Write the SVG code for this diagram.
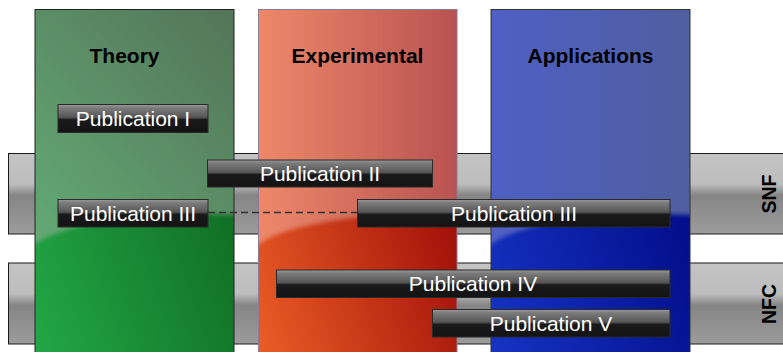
<svg xmlns="http://www.w3.org/2000/svg" width="783" height="352" viewBox="0 0 783 352">
  <defs>
    <style>
      .band { stroke: #1a1a1a; stroke-width: 1; fill: url(#bandGrad); }
      .head { font-family: "Liberation Sans", Arial, sans-serif; font-weight: bold; font-size: 21px; fill: #000; text-anchor: middle; }
      .side { font-family: "Liberation Sans", Arial, sans-serif; font-weight: bold; font-size: 19.5px; fill: #000; text-anchor: middle; }
      .pub rect { fill: url(#pubGrad); stroke: #2a2a2a; stroke-width: 1; }
      .pub text { font-family: "Liberation Sans", Arial, sans-serif; font-size: 21px; fill: #fff; text-anchor: middle; }
      .link { stroke: #333; stroke-width: 1.3; stroke-dasharray: 7 4; fill: none; }
    </style>
    <linearGradient id="bandGrad" x1="0" y1="0" x2="0" y2="1">
      <stop offset="0" stop-color="#c4c4c4"/>
      <stop offset="0.38" stop-color="#bdbdbd"/>
      <stop offset="0.52" stop-color="#858585"/>
      <stop offset="1" stop-color="#9c9c9c"/>
    </linearGradient>
    <linearGradient id="pubGrad" x1="0" y1="0" x2="0" y2="1">
      <stop offset="0" stop-color="#9a9a9a"/>
      <stop offset="0.12" stop-color="#7c7c7c"/>
      <stop offset="0.46" stop-color="#555"/>
      <stop offset="0.54" stop-color="#1a1a1a"/>
      <stop offset="1" stop-color="#131313"/>
    </linearGradient>
    <!-- column base (saturated lower part) -->
    <linearGradient id="greenLow" x1="0" y1="1" x2="1" y2="0.4">
      <stop offset="0" stop-color="#22a846"/>
      <stop offset="1" stop-color="#0f6a22"/>
    </linearGradient>
    <linearGradient id="greenTop" x1="0" y1="1" x2="1" y2="0">
      <stop offset="0" stop-color="#64ad77"/>
      <stop offset="1" stop-color="#537156"/>
    </linearGradient>
    <linearGradient id="redLow" x1="0" y1="1" x2="1" y2="0.4">
      <stop offset="0" stop-color="#ec5e26"/>
      <stop offset="1" stop-color="#980806"/>
    </linearGradient>
    <linearGradient id="redTop" x1="0" y1="0" x2="1" y2="0">
      <stop offset="0" stop-color="#f28c6c"/>
      <stop offset="1" stop-color="#b44f50"/>
    </linearGradient>
    <linearGradient id="blueLow" x1="0" y1="1" x2="1" y2="0.4">
      <stop offset="0" stop-color="#1634c4"/>
      <stop offset="1" stop-color="#000a84"/>
    </linearGradient>
    <linearGradient id="blueTop" x1="0" y1="0" x2="1" y2="0">
      <stop offset="0" stop-color="#505ec8"/>
      <stop offset="1" stop-color="#4f5e9c"/>
    </linearGradient>
    <clipPath id="clipTheory"><rect x="35" y="9.5" width="199" height="350"/></clipPath>
    <clipPath id="clipExp"><rect x="258.5" y="9.5" width="198.5" height="350"/></clipPath>
    <clipPath id="clipApp"><rect x="491" y="9.5" width="199" height="350"/></clipPath>
    <filter id="soft" x="-5%" y="-5%" width="110%" height="110%">
      <feGaussianBlur stdDeviation="2.3"/>
    </filter>
  </defs>

  <rect width="783" height="352" fill="#fff"/>

  <!-- horizontal bands -->
  <g id="band-snf">
    <rect class="band" x="8.5" y="153.5" width="790" height="80.5"/>
  </g>
  <g id="band-nfc">
    <rect class="band" x="8.5" y="263" width="790" height="81"/>
  </g>

  <!-- columns: saturated base with a glossy lighter top -->
  <g id="col-theory">
    <rect x="35" y="9.5" width="199" height="350" fill="url(#greenLow)"/>
    <g clip-path="url(#clipTheory)">
      <path d="M20,0 H249 V215.8 A175,44 0 0,0 35,244.3 L20,252 Z" fill="url(#greenTop)" filter="url(#soft)"/>
    </g>
    <rect x="35" y="9.5" width="199" height="350" fill="none" stroke="#222" stroke-width="1"/>
    <text class="head" x="124.5" y="63">Theory</text>
  </g>
  <g id="col-experimental">
    <rect x="258.5" y="9.5" width="198.5" height="350" fill="url(#redLow)"/>
    <g clip-path="url(#clipExp)">
      <path d="M243,0 H472 V215.8 A175,44 0 0,0 258.5,244.3 L243,252 Z" fill="url(#redTop)" filter="url(#soft)"/>
    </g>
    <rect x="258.5" y="9.5" width="198.5" height="350" fill="none" stroke="#8c7c9c" stroke-width="1"/>
    <text class="head" x="357.5" y="63">Experimental</text>
  </g>
  <g id="col-applications">
    <rect x="491" y="9.5" width="199" height="350" fill="url(#blueLow)"/>
    <g clip-path="url(#clipApp)">
      <path d="M476,0 H705 V215.8 A175,44 0 0,0 491,244.3 L476,252 Z" fill="url(#blueTop)" filter="url(#soft)"/>
    </g>
    <rect x="491" y="9.5" width="199" height="350" fill="none" stroke="#333" stroke-width="1"/>
    <text class="head" x="590.5" y="63">Applications</text>
  </g>

  <!-- band labels -->
  <text class="side" x="776" y="194" transform="rotate(-90 776 194)">SNF</text>
  <text class="side" x="776" y="304" transform="rotate(-90 776 304)">NFC</text>

  <!-- connectors -->
  <g id="connectors">
    <line class="link" x1="208" y1="212.5" x2="357.5" y2="212.5"/>
  </g>

  <!-- publications -->
  <g id="pub-1" class="pub">
    <rect x="58" y="104.5" width="150" height="28"/>
    <text x="133" y="125.5">Publication I</text>
  </g>
  <g id="pub-2" class="pub">
    <rect x="207.5" y="160" width="225" height="27"/>
    <text x="320" y="181">Publication II</text>
  </g>
  <g id="pub-3-theory" class="pub">
    <rect x="58" y="199.5" width="150" height="27.5"/>
    <text x="133" y="220.5">Publication III</text>
  </g>
  <g id="pub-3" class="pub">
    <rect x="357.5" y="199.5" width="312.5" height="27.5"/>
    <text x="514" y="220.5">Publication III</text>
  </g>
  <g id="pub-4" class="pub">
    <rect x="276.5" y="270" width="393.5" height="27.5"/>
    <text x="473" y="290.5">Publication IV</text>
  </g>
  <g id="pub-5" class="pub">
    <rect x="432.5" y="309.5" width="237.5" height="27.5"/>
    <text x="551" y="330.5">Publication V</text>
  </g>
</svg>
